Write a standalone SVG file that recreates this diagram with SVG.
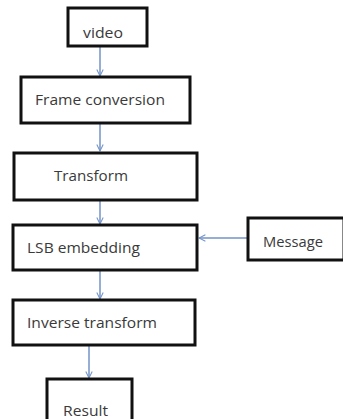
<svg xmlns="http://www.w3.org/2000/svg" width="343" height="419" viewBox="0 0 343 419">
<style>
.box{fill:#fff;stroke:#111;stroke-width:3}
.t{font-family:"Open Sans","Liberation Sans",sans-serif;font-size:15px;fill:#3a3a3a}
.c{stroke:#7393c8;stroke-width:1.5;fill:none}
</style>
<defs>
<marker id="ah" viewBox="0 0 10 10" refX="9" refY="5" markerWidth="8" markerHeight="8" orient="auto" markerUnits="userSpaceOnUse">
<path d="M1,1 L9,5 L1,9" fill="none" stroke="#7393c8" stroke-width="1.3"/>
</marker>
</defs>
<rect width="343" height="419" fill="#fff"/>
<g id="connectors">
<line class="c" x1="100" y1="46" x2="100" y2="76" marker-end="url(#ah)"/>
<line class="c" x1="100" y1="123" x2="100" y2="151" marker-end="url(#ah)"/>
<line class="c" x1="100" y1="200" x2="100" y2="224" marker-end="url(#ah)"/>
<line class="c" x1="100" y1="270" x2="100" y2="299" marker-end="url(#ah)"/>
<line class="c" x1="89" y1="345" x2="89" y2="378" marker-end="url(#ah)"/>
<line class="c" x1="247" y1="238" x2="199" y2="238" marker-end="url(#ah)"/>
</g>
<g id="video"><rect class="box" x="68" y="8" width="79" height="38"/><text class="t" x="83" y="38" textLength="40" lengthAdjust="spacingAndGlyphs">video</text></g>
<g id="frame"><rect class="box" x="21" y="77" width="169" height="46"/><text class="t" x="35" y="105" textLength="130" lengthAdjust="spacingAndGlyphs">Frame conversion</text></g>
<g id="transform"><rect class="box" x="14" y="153" width="183" height="47"/><text class="t" x="54" y="181" textLength="74" lengthAdjust="spacingAndGlyphs">Transform</text></g>
<g id="lsb"><rect class="box" x="13" y="225" width="184" height="45"/><text class="t" x="27" y="253" textLength="113" lengthAdjust="spacingAndGlyphs">LSB embedding</text></g>
<g id="message"><rect class="box" x="248" y="218" width="96" height="42"/><text class="t" x="263" y="247" textLength="60" lengthAdjust="spacingAndGlyphs">Message</text></g>
<g id="inverse"><rect class="box" x="13" y="300" width="182" height="45"/><text class="t" x="27" y="328" textLength="130" lengthAdjust="spacingAndGlyphs">Inverse transform</text></g>
<g id="result"><rect class="box" x="47" y="379" width="85" height="50"/><text class="t" x="63" y="416" textLength="45" lengthAdjust="spacingAndGlyphs">Result</text></g>
</svg>
